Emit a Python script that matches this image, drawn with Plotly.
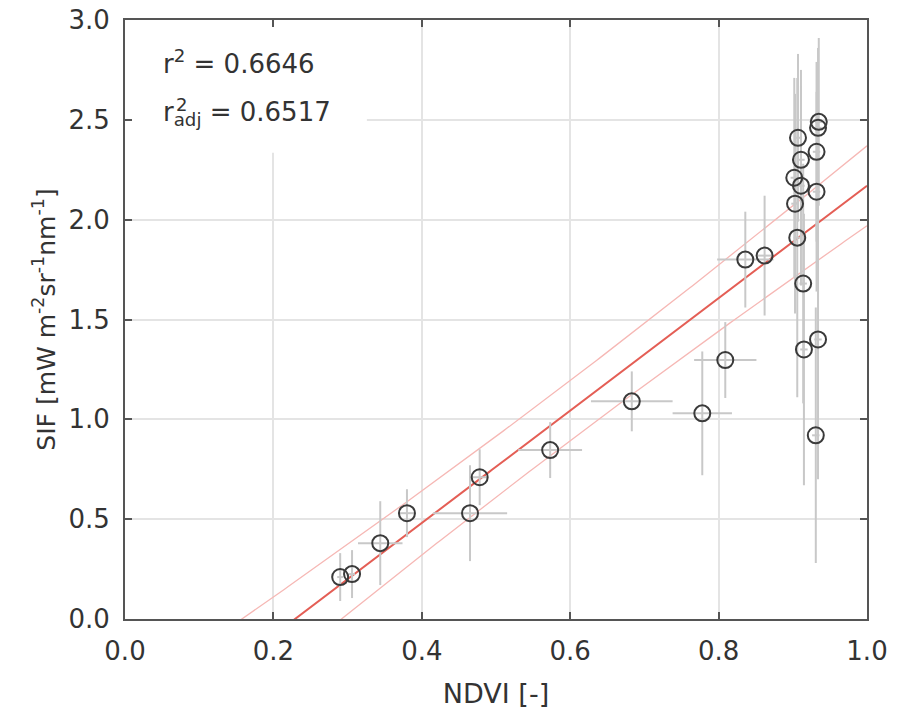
import numpy as np
import plotly.graph_objects as go

# ---- data ----
ndvi = [0.290, 0.306, 0.344, 0.380, 0.465, 0.478, 0.573, 0.683, 0.778, 0.809,
        0.836, 0.862, 0.906, 0.903, 0.911, 0.932, 0.902, 0.911, 0.932, 0.907,
        0.934, 0.935, 0.914, 0.915, 0.934, 0.931]
sif = [0.21, 0.225, 0.38, 0.53, 0.53, 0.71, 0.846, 1.09, 1.03, 1.297,
       1.80, 1.82, 1.91, 2.08, 2.17, 2.14, 2.21, 2.30, 2.34, 2.41,
       2.46, 2.49, 1.68, 1.35, 1.40, 0.92]
ndvi_err = [0.004, 0.004, 0.030, 0.010, 0.050, 0.010, 0.043, 0.055, 0.040, 0.042,
            0.038, 0.010, 0.005, 0.005, 0.005, 0.005, 0.005, 0.005, 0.005, 0.005,
            0.005, 0.005, 0.005, 0.005, 0.005, 0.005]
sif_err = [0.12, 0.12, 0.21, 0.12, 0.24, 0.14, 0.14, 0.15, 0.31, 0.19,
           0.24, 0.30, 0.80, 0.55, 0.50, 0.50, 0.50, 0.45, 0.45, 0.42,
           0.40, 0.42, 0.60, 0.68, 0.70, 0.64]

# regression model parameters
fit_slope = 2.815
fit_intercept = -0.645
ci_center = 0.58
ci_half_min = 0.15
ci_curv = 0.0992

r2_text = "0.6646"
r2adj_text = "0.6517"

x_ticks = [0.0, 0.2, 0.4, 0.6, 0.8, 1.0]
y_ticks = [0.0, 0.5, 1.0, 1.5, 2.0, 2.5, 3.0]

FONT = "DejaVu Sans, Liberation Sans, Arial"
TXT = "#333333"

xs = np.linspace(0, 1, 201)
yfit = fit_slope * xs + fit_intercept
half = np.sqrt(ci_half_min ** 2 + ci_curv * (xs - ci_center) ** 2)

fig = go.Figure()

# confidence bounds
for sign in (1, -1):
    fig.add_trace(go.Scatter(x=xs, y=yfit + sign * half, mode="lines",
                             line=dict(color="#f6b8b5", width=1.3),
                             hoverinfo="skip", showlegend=False))
# fit line
fig.add_trace(go.Scatter(x=xs, y=yfit, mode="lines",
                         line=dict(color="#e45e55", width=2),
                         hoverinfo="skip", showlegend=False))

# data points with error bars
fig.add_trace(go.Scatter(
    x=ndvi, y=sif, mode="markers",
    marker=dict(symbol="circle-open", size=16, color="#3a3a3a",
                line=dict(width=2, color="#3a3a3a")),
    error_x=dict(type="data", array=ndvi_err, color="#c8c8c8", thickness=2, width=0),
    error_y=dict(type="data", array=sif_err, color="#c8c8c8", thickness=2, width=0),
    showlegend=False))

# white background box behind the statistics text
fig.add_shape(type="rect", xref="x", yref="y", x0=0, x1=0.326, y0=2.335, y1=3.0,
              fillcolor="white", line=dict(width=0), layer="between")

fig.add_annotation(xref="x", yref="y", x=0.049, y=2.79, xanchor="left", yanchor="middle",
                   text="r<sup>2</sup> = " + r2_text, showarrow=False,
                   font=dict(family=FONT, size=26, color=TXT))
fig.add_annotation(xref="x", yref="y", x=0.049, y=2.53, xanchor="left", yanchor="middle",
                   text="r<sub>adj</sub> = " + r2adj_text, showarrow=False,
                   font=dict(family=FONT, size=26, color=TXT))
fig.add_annotation(xref="x", yref="y", x=0.066, y=2.575, xanchor="left", yanchor="middle",
                   text="2", showarrow=False,
                   font=dict(family=FONT, size=18, color=TXT))

axis_common = dict(showline=True, linecolor="#555555", linewidth=2, mirror="ticks",
                   ticks="inside", ticklen=7, tickwidth=1.5, tickcolor="#555555",
                   showgrid=True, gridcolor="#e4e4e4", gridwidth=1.5, zeroline=False,
                   ticklabeloverflow="allow",
                   tickfont=dict(family=FONT, size=26, color=TXT), tickformat=".1f")

fig.update_xaxes(range=[0, 1], tickvals=x_ticks, ticklabelstandoff=8,
                 title=dict(text="NDVI [-]", standoff=19,
                            font=dict(family=FONT, size=27, color=TXT)),
                 **axis_common)
fig.update_yaxes(range=[0, 3], tickvals=y_ticks, ticklabelstandoff=8,
                 title=dict(text="SIF [mW m<sup>-2</sup>sr<sup>-1</sup>nm<sup>-1</sup>]", standoff=6,
                            font=dict(family=FONT, size=25, color=TXT)),
                 **axis_common)

fig.update_layout(width=913, height=719, margin=dict(l=125, r=46, t=20, b=100, autoexpand=False),
                  plot_bgcolor="white", paper_bgcolor="white", showlegend=False)

fig.write_html("out.html", config={"displayModeBar": False},
               post_script="document.body.style.margin='0px';")
